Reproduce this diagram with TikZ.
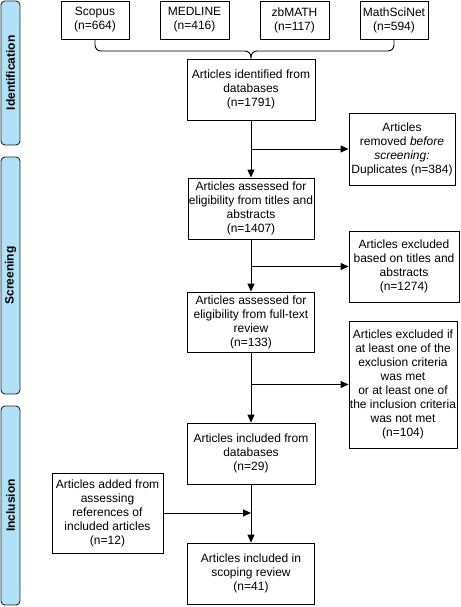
\documentclass[tikz,border=0pt]{standalone}
\usepackage{fontspec}
\setmainfont{Liberation Sans}
\usetikzlibrary{arrows.meta}

\definecolor{stageblue}{RGB}{177,225,246}

\begin{document}
\begin{tikzpicture}[x=1pt, y=-1pt,
    box/.style={draw, line width=0.9pt, inner sep=0pt, align=center, font=\fontsize{12}{14}\selectfont},
    stage/.style={draw=black!85, fill=stageblue, rotate=90, rounded corners=4pt, line width=0.9pt,
      minimum height=19pt, inner sep=0pt, font=\fontsize{12}{14}\selectfont\bfseries},
    flow/.style={line width=0.9pt, -{Triangle[length=8pt, width=7pt]}}]
  \useasboundingbox (0, 0) rectangle (460, 607);

  \node [stage, minimum width=144pt] (identification) at (10.5, 73) {Identification};
  \node [stage, minimum width=237pt] (screening) at (10.5, 275.5) {Screening};
  \node [stage, minimum width=199pt] (inclusion) at (10.5, 505.5) {Inclusion};

  \node [box, minimum width=68pt, minimum height=38pt] (scopus) at (95, 20) {Scopus\\(n=664)};
  \node [box, minimum width=69pt, minimum height=38pt] (medline) at (194.5, 20) {MEDLINE\\(n=416)};
  \node [box, minimum width=69pt, minimum height=38pt] (zbmath) at (294.5, 20) {zbMATH\\(n=117)};
  \node [box, minimum width=68pt, minimum height=38pt] (mathsci) at (394, 20) {MathSciNet\\(n=594)};

  \node [box, minimum width=128pt, minimum height=61pt] (identified) at (251, 89.5) {Articles identified from\\databases\\(n=1791)};
  \node [box, minimum width=106pt, minimum height=72pt] (removed) at (402, 149) {Articles\\removed \textit{before}\\\textit{screening:}\\Duplicates (n=384)};
  \node [box, minimum width=126pt, minimum height=61pt] (titles) at (251, 208.5) {Articles assessed for\\eligibility from titles and\\abstracts\\(n=1407)};
  \node [box, minimum width=110pt, minimum height=71pt] (extitles) at (404, 266.5) {Articles excluded\\based on titles and\\abstracts\\(n=1274)};
  \node [box, minimum width=127pt, minimum height=60pt] (fulltext) at (251, 322) {Articles assessed for\\eligibility from full-text\\review\\(n=133)};
  \node [box, minimum width=108pt, minimum height=127pt] (excriteria) at (403, 384.5) {Articles excluded if\\at least one of the\\exclusion criteria\\was met\\or at least one of\\the inclusion criteria\\was not met\\(n=104)};
  \node [box, minimum width=128pt, minimum height=61pt] (included) at (251, 453.5) {Articles included from\\databases\\(n=29)};
  \node [box, minimum width=111pt, minimum height=80pt] (added) at (107.5, 513) {Articles added from\\assessing\\references of\\included articles\\(n=12)};
  \node [box, minimum width=127pt, minimum height=61pt] (review) at (251, 573.5) {Articles included in\\scoping review\\(n=41)};

  \coordinate (fork) at (251, 51);
  \draw [line width=0.9pt, rounded corners=6pt] (scopus.south) |- (fork) -- (identified.north);
  \draw [line width=0.9pt, rounded corners=6pt] (mathsci.south) |- (fork) -- (identified.north);

  \draw [flow] (identified) -- (titles);
  \draw [flow] (identified.south |- removed.west) -- (removed.west);
  \draw [flow] (titles) -- (fulltext);
  \draw [flow] (titles.south |- extitles.west) -- (extitles.west);
  \draw [flow] (fulltext) -- (included);
  \draw [flow] (fulltext.south |- excriteria.west) -- (excriteria.west);
  \draw [flow] (included) -- (review);
  \draw [flow] (added.east) -- (added.east -| included.south);
\end{tikzpicture}
\end{document}
